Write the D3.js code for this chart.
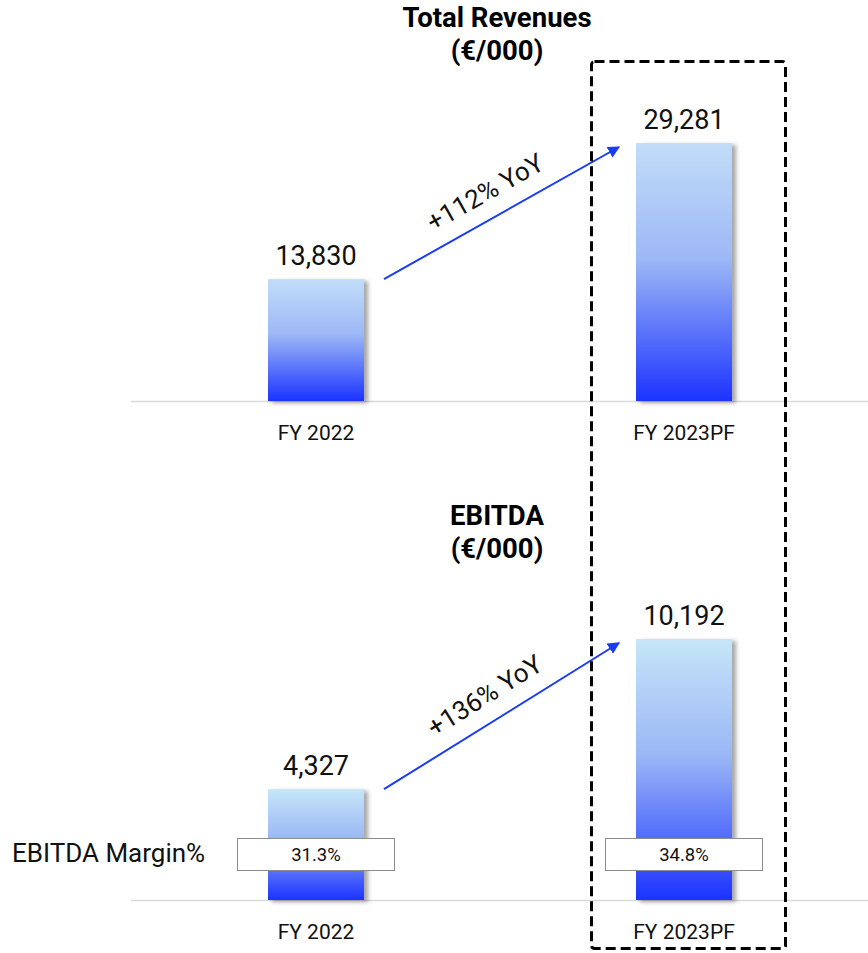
<!DOCTYPE html>
<html><head><meta charset="utf-8">
<script src="https://cdn.jsdelivr.net/npm/d3@7"></script>
<style>body{margin:0;background:#fff}svg{display:block}text{font-family:Roboto,"Noto Sans",sans-serif}</style>
</head><body><svg id="c" width="868" height="953"></svg>
<script>
const categories = ["FY 2022", "FY 2023PF"];
const revenues = [13830, 29281];
const ebitda = [4327, 10192];
const margins = ["31.3%", "34.8%"];
const revenueYoY = "+112% YoY";
const ebitdaYoY = "+136% YoY";
const titles = [["Total Revenues", "(€/000)"], ["EBITDA", "(€/000)"]];
const marginLabel = "EBITDA Margin%";

const svg = d3.select("#c");
const defs = svg.append("defs");
const g1 = defs.append("linearGradient").attr("id", "gr1").attr("x1", 0).attr("y1", 0).attr("x2", 0).attr("y2", 1);
g1.append("stop").attr("offset", "0%").attr("stop-color", "#c2ddf8");
g1.append("stop").attr("offset", "45%").attr("stop-color", "#9db8f6");
g1.append("stop").attr("offset", "100%").attr("stop-color", "#1b33ff");
const g2 = defs.append("linearGradient").attr("id", "gr2").attr("x1", 0).attr("y1", 0).attr("x2", 0).attr("y2", 1);
g2.append("stop").attr("offset", "0%").attr("stop-color", "#c6e6f8");
g2.append("stop").attr("offset", "45%").attr("stop-color", "#9ab6f6");
g2.append("stop").attr("offset", "100%").attr("stop-color", "#1b33ff");
const f = defs.append("filter").attr("id", "sh").attr("x", "-20%").attr("y", "-20%").attr("width", "150%").attr("height", "150%");
f.append("feDropShadow").attr("dx", 4).attr("dy", 2).attr("stdDeviation", 2).attr("flood-color", "#000").attr("flood-opacity", 0.35);
defs.append("marker").attr("id", "arr").attr("viewBox", "0 0 10 10").attr("refX", 9).attr("refY", 5)
  .attr("markerWidth", 6).attr("markerHeight", 6).attr("orient", "auto")
  .append("path").attr("d", "M0,0L10,5L0,10z").attr("fill", "#1a3cf5");

const x = d3.scalePoint().domain(categories).range([316, 684]);
const barW = 96;

function panel(values, base, maxH, grad, titleY, yoy, title) {
  const y = d3.scaleLinear().domain([0, d3.max(values)]).range([base, base - maxH]);
  svg.append("text").attr("x", 497).attr("y", titleY).attr("text-anchor", "middle")
    .attr("font-size", 27.5).attr("font-weight", 700).attr("fill", "#000").text(title[0]);
  svg.append("text").attr("x", 497).attr("y", titleY + 33).attr("text-anchor", "middle")
    .attr("font-size", 27.5).attr("font-weight", 700).attr("fill", "#000").text(title[1]);
  svg.append("line").attr("x1", 131).attr("x2", 868).attr("y1", base + 0.5).attr("y2", base + 0.5)
    .attr("stroke", "#d9d9d9").attr("stroke-width", 1.5);
  svg.selectAll(null).data(values).enter().append("rect")
    .attr("x", (d, i) => x(categories[i]) - barW / 2).attr("width", barW)
    .attr("y", d => y(d)).attr("height", d => base - y(d))
    .attr("fill", `url(#${grad})`).attr("filter", "url(#sh)");
  svg.selectAll(null).data(values).enter().append("text")
    .attr("x", (d, i) => x(categories[i])).attr("y", d => y(d) - 14)
    .attr("text-anchor", "middle").attr("font-size", 27).attr("fill", "#111")
    .text(d => d3.format(",")(d));
  svg.selectAll(null).data(categories).enter().append("text")
    .attr("x", d => x(d)).attr("y", base + 39).attr("text-anchor", "middle")
    .attr("font-size", 21).attr("fill", "#111").text(d => d);
  const x0 = x(categories[0]) + barW / 2 + 20, y0 = y(values[0]);
  const x1 = x(categories[1]) - barW / 2 - 17, y1 = y(values[1]) + 4;
  svg.append("line").attr("x1", x0).attr("y1", y0).attr("x2", x1).attr("y2", y1)
    .attr("stroke", "#1a3cf5").attr("stroke-width", 2).attr("marker-end", "url(#arr)");
  const ang = Math.atan2(y1 - y0, x1 - x0) * 180 / Math.PI;
  const mx = (x0 + x1) / 2, my = (y0 + y1) / 2;
  svg.append("text").attr("transform", `translate(${mx - 12},${my - 13}) rotate(${ang})`)
    .attr("text-anchor", "middle").attr("font-size", 26).attr("fill", "#111").text(yoy);
  return y;
}

panel(revenues, 401, 258, "gr1", 27, revenueYoY, titles[0]);
panel(ebitda, 900, 261, "gr2", 525, ebitdaYoY, titles[1]);

const mg = svg.selectAll(null).data(margins).enter().append("g")
  .attr("transform", (d, i) => `translate(${x(categories[i])},854)`);
mg.append("rect").attr("x", -78.5).attr("y", -15.5).attr("width", 157).attr("height", 32)
  .attr("fill", "#fff").attr("stroke", "#8c8c8c").attr("stroke-width", 1);
mg.append("text").attr("y", 7).attr("text-anchor", "middle").attr("font-size", 18.5).attr("fill", "#111").text(d => d);
svg.append("text").attr("x", 12).attr("y", 862).attr("font-size", 26).attr("fill", "#111").text(marginLabel);

svg.append("rect").attr("x", 591.5).attr("y", 61.5).attr("width", 194).attr("height", 887)
  .attr("rx", 3).attr("fill", "none").attr("stroke", "#000").attr("stroke-width", 3)
  .attr("stroke-dasharray", "10,5");
</script></body></html>
